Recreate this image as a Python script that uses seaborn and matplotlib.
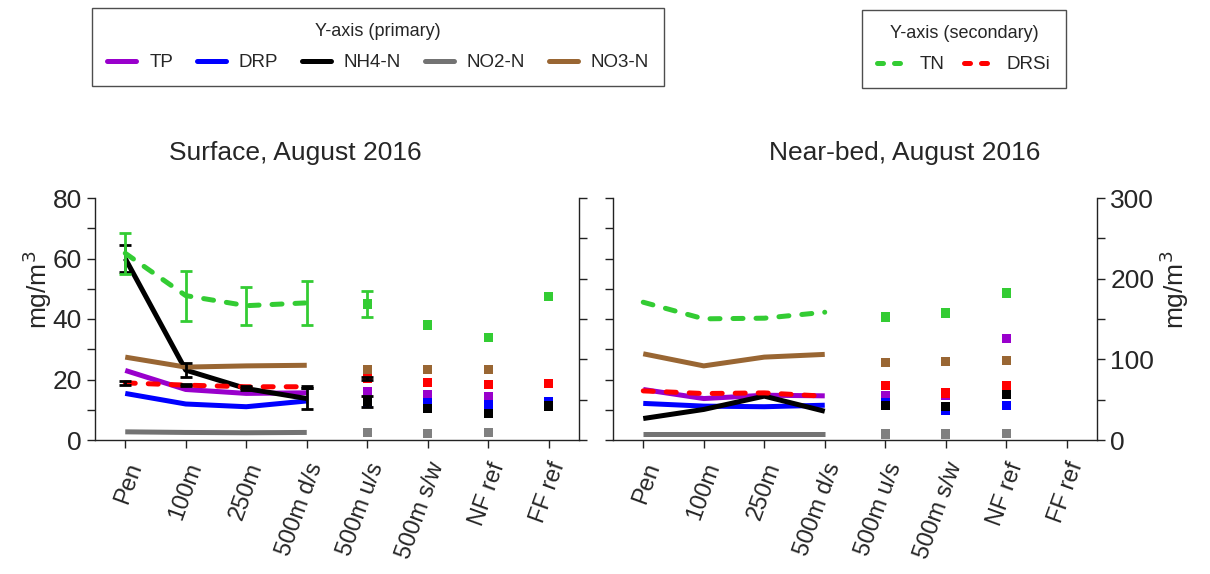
import numpy as np
import pandas as pd
import matplotlib
matplotlib.use("Agg")
import matplotlib.pyplot as plt
from matplotlib.lines import Line2D
from matplotlib.ticker import MultipleLocator, FuncFormatter
from matplotlib.transforms import ScaledTranslation
import seaborn as sns

# ---- data -----------------------------------------------------------------
sites = ["Pen", "100m", "250m", "500m d/s", "500m u/s", "500m s/w", "NF ref", "FF ref"]
n_transect = 4  # first four sites are joined by lines, the rest are single points

# Surface, August 2016 (primary axis, mg/m3)
tp_surf = [23.0, 16.7, 15.4, 15.6, 15.9, 15.1, 14.3, np.nan]
drp_surf = [15.4, 11.9, 11.0, 12.9, 12.6, 12.3, 11.8, 12.6]
nh4_surf = [60.0, 23.1, 17.0, 13.7, 12.8, 10.4, 8.8, 11.2]
no2_surf = [2.7, 2.5, 2.4, 2.5, 2.5, 2.2, 2.5, np.nan]
no3_surf = [27.4, 24.1, 24.5, 24.7, 23.3, 23.3, 23.4, np.nan]
# Surface, secondary axis
tn_surf = [231.5, 179.0, 166.5, 170.0, 168.7, 142.8, 126.8, 177.8]
drsi_surf = [70.8, 68.0, 66.0, 66.0, 76.0, 71.6, 69.0, 70.0]
# Surface standard errors
nh4_surf_err = [4.3, 2.3, 0.6, 3.5, 1.8, np.nan, np.nan, np.nan]
tn_surf_err = [25.5, 31.0, 23.5, 27.0, 16.5, np.nan, np.nan, np.nan]
drsi_surf_err = [2.0, 1.5, 1.5, 1.5, 2.0, np.nan, np.nan, np.nan]

# Near-bed, August 2016 (primary axis, mg/m3)
tp_bed = [16.7, 13.7, 14.8, 14.6, 14.7, 14.9, 33.5, np.nan]
drp_bed = [12.1, 11.2, 11.0, 11.5, 12.3, 9.9, 11.4, np.nan]
nh4_bed = [7.1, 10.1, 14.5, 9.5, 11.4, 11.1, 15.0, np.nan]
no2_bed = [2.0, 2.0, 2.0, 2.0, 2.0, 2.0, 2.2, np.nan]
no3_bed = [28.5, 24.5, 27.4, 28.3, 25.6, 25.9, 26.2, np.nan]
# Near-bed, secondary axis
tn_bed = [170.8, 150.2, 151.0, 158.4, 152.3, 157.6, 182.3, np.nan]
drsi_bed = [60.9, 57.6, 58.4, 54.3, 67.5, 58.4, 67.5, np.nan]

primary_names = ["TP", "DRP", "NH4-N", "NO2-N", "NO3-N"]
secondary_names = ["TN", "DRSi"]
colors = {"TP": "#9900CC", "DRP": "#0000FF", "NH4-N": "#000000",
          "NO2-N": "#737373", "NO3-N": "#996633",
          "TN": "#33CC33", "DRSi": "#FF0000"}
marker_colors = dict(colors, **{"NO2-N": "#808080"})

panels = [
    ("Surface, August 2016",
     {"TP": tp_surf, "DRP": drp_surf, "NH4-N": nh4_surf, "NO2-N": no2_surf, "NO3-N": no3_surf},
     {"TN": tn_surf, "DRSi": drsi_surf},
     {"NH4-N": nh4_surf_err}, {"TN": tn_surf_err, "DRSi": drsi_surf_err}),
    ("Near-bed, August 2016",
     {"TP": tp_bed, "DRP": drp_bed, "NH4-N": nh4_bed, "NO2-N": no2_bed, "NO3-N": no3_bed},
     {"TN": tn_bed, "DRSi": drsi_bed},
     {}, {}),
]


def long_frame(series):
    rows = []
    for name, vals in series.items():
        for i, v in enumerate(vals):
            rows.append({"series": name, "pos": i, "site": sites[i], "value": v})
    return pd.DataFrame(rows)


# ---- style ----------------------------------------------------------------
sns.set_theme(style="ticks")
plt.rcParams["font.family"] = ["Liberation Sans", "DejaVu Sans"]
plt.rcParams["axes.edgecolor"] = "#222222"
plt.rcParams["axes.linewidth"] = 1.0

LW = 3.6
DASH = (2.0, 2.6)

fig = plt.figure(figsize=(12.1, 5.74), dpi=100)
W, H = 1210, 574
ax_rects = [(95, 198, 579, 440), (613, 198, 1097, 440)]
title_x = [295, 905]
label_shift = ScaledTranslation(6 / 72, 0, fig.dpi_scale_trans)

for k, (title, prim, sec, prim_err, sec_err) in enumerate(panels):
    x0, y0, x1, y1 = ax_rects[k]
    ax = fig.add_axes([x0 / W, 1 - y1 / H, (x1 - x0) / W, (y1 - y0) / H])
    ax2 = ax.twinx()

    dfp = long_frame(prim)
    dfs = long_frame(sec)
    line_p = dfp[dfp["pos"] < n_transect]
    pts_p = dfp[dfp["pos"] >= n_transect].dropna()
    line_s = dfs[dfs["pos"] < n_transect]
    pts_s = dfs[dfs["pos"] >= n_transect].dropna()

    # primary-axis lines and single-site markers
    for name in primary_names:
        sub = line_p[line_p["series"] == name]
        sns.lineplot(data=sub, x="pos", y="value", color=colors[name], linewidth=LW,
                     ax=ax, legend=False, sort=False, errorbar=None,
                     solid_capstyle="butt")
    sns.scatterplot(data=pts_p, x="pos", y="value", hue="series",
                    palette=marker_colors, hue_order=primary_names, marker="s",
                    s=46, linewidth=0, ax=ax, legend=False)
    for name, err in prim_err.items():
        ax.errorbar(np.arange(len(sites)), prim[name], yerr=err, fmt="none",
                    ecolor=colors[name], elinewidth=2.0, capsize=4, capthick=2.0,
                    zorder=3)

    # secondary-axis dashed lines and markers
    for name in secondary_names:
        sub = line_s[line_s["series"] == name]
        sns.lineplot(data=sub, x="pos", y="value", color=colors[name], linewidth=LW,
                     ax=ax2, legend=False, sort=False, errorbar=None,
                     dashes=False)
        ax2.lines[-1].set_dashes(DASH)
        ax2.lines[-1].set_dash_capstyle("round")
    sns.scatterplot(data=pts_s, x="pos", y="value", hue="series",
                    palette=marker_colors, hue_order=secondary_names, marker="s",
                    s=46, linewidth=0, ax=ax2, legend=False)
    for name, err in sec_err.items():
        ecol = colors[name] if name == "TN" else "#000000"
        ax2.errorbar(np.arange(len(sites)), sec[name], yerr=err, fmt="none",
                     ecolor=ecol, elinewidth=2.0, capsize=4, capthick=2.0, zorder=3)

    # axes limits and ticks
    ax.set_xlim(-0.5, len(sites) - 0.5)
    ax.set_ylim(0, 80)
    ax2.set_ylim(0, 300)
    ax.set_xticks(range(len(sites)))
    ax.set_xticklabels(sites, rotation=70, ha="right", va="top",
                       rotation_mode="anchor", fontsize=17)
    for lab in ax.get_xticklabels():
        lab.set_transform(lab.get_transform() + label_shift)
    ax.yaxis.set_major_locator(MultipleLocator(10))
    ax2.yaxis.set_major_locator(MultipleLocator(50))
    ax.tick_params(axis="both", direction="out", length=6, width=1.0,
                   color="#222222", labelsize=19)
    ax.tick_params(axis="x", pad=8, labelsize=17)
    ax2.tick_params(axis="y", direction="out", length=6, width=1.0,
                    color="#222222", labelsize=19)
    ax.set_xlabel("")
    ax.set_ylabel("")
    ax2.set_xlabel("")
    ax2.set_ylabel("")

    for a in (ax, ax2):
        a.spines["top"].set_visible(False)
    ax.spines["right"].set_visible(False)
    ax2.spines["left"].set_visible(False)
    ax2.spines["bottom"].set_visible(False)

    if k == 0:
        ax.yaxis.set_major_formatter(FuncFormatter(
            lambda v, p: f"{v:.0f}" if round(v) % 20 == 0 else ""))
        ax2.yaxis.set_major_formatter(FuncFormatter(lambda v, p: ""))
        ax.set_ylabel("mg/m$^3$", fontsize=19)
        ax.yaxis.set_label_coords(-0.085, 0.62)
    else:
        ax.yaxis.set_major_formatter(FuncFormatter(lambda v, p: ""))
        ax2.yaxis.set_major_formatter(FuncFormatter(
            lambda v, p: f"{v:.0f}" if round(v) % 100 == 0 else ""))
        ax2.set_ylabel("mg/m$^3$", fontsize=19, rotation=90)
        ax2.yaxis.set_label_coords(1.125, 0.62)

    fig.text(title_x[k] / W, 1 - 153 / H, title, ha="center", va="center",
             fontsize=19)

# ---- legends --------------------------------------------------------------
prim_handles = [Line2D([], [], color=colors[n], lw=LW, solid_capstyle="round")
                for n in primary_names]
leg1 = fig.legend(prim_handles, primary_names, title="Y-axis (primary)", ncol=5,
                  loc="upper left", bbox_to_anchor=(92 / W, 1 - 8 / H),
                  borderaxespad=0, fontsize=13.5, title_fontsize=13,
                  frameon=True, fancybox=False, edgecolor="#222222",
                  handlelength=1.55, handletextpad=0.7, columnspacing=1.25,
                  borderpad=0.8, labelspacing=0.75)
leg1.get_frame().set_linewidth(1.0)

sec_handles = [Line2D([], [], color=colors[n], lw=LW, dashes=(1.2, 2.2),
                      dash_capstyle="round") for n in secondary_names]
leg2 = fig.legend(sec_handles, secondary_names, title="Y-axis (secondary)", ncol=2,
                  loc="upper left", bbox_to_anchor=(862 / W, 1 - 10 / H),
                  borderaxespad=0, fontsize=13.5, title_fontsize=13,
                  frameon=True, fancybox=False, edgecolor="#222222",
                  handlelength=1.7, handletextpad=0.6, columnspacing=1.0,
                  borderpad=0.8, labelspacing=0.75)
leg2.get_frame().set_linewidth(1.0)

fig.savefig("out.png", dpi=100)
